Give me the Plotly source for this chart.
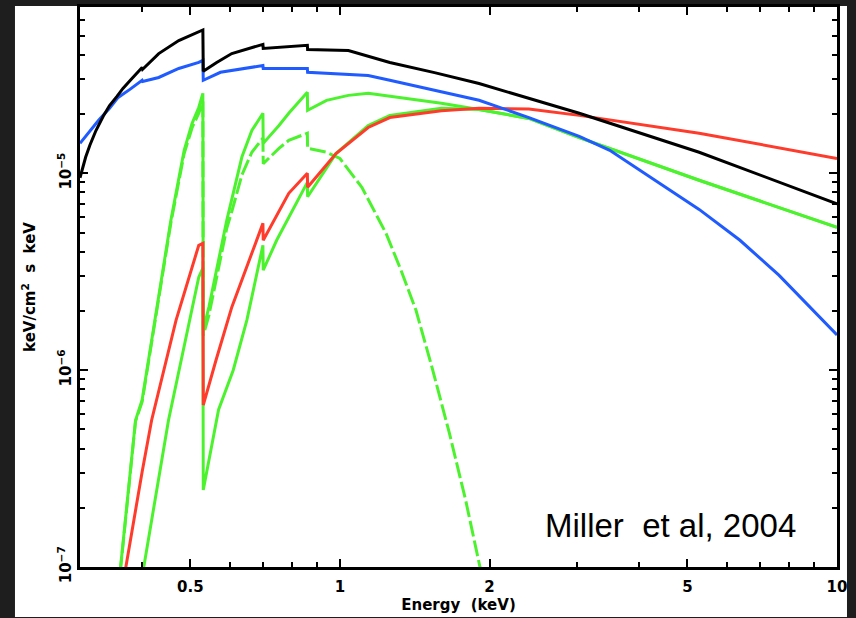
import plotly.graph_objects as go

# ---------------- data (keV, keV^2/cm^2/s/keV) ----------------
E_total = [0.30, 0.308, 0.314, 0.323, 0.334, 0.344, 0.356, 0.366, 0.380, 0.396, 0.400, 0.401,
           0.432, 0.474, 0.520, 0.530, 0.531, 0.565, 0.606, 0.656, 0.700, 0.701, 0.760, 0.860,
           0.861, 1.04, 1.26, 1.55, 1.905, 3.03, 5.28, 10.0]
F_total = [0.95e-5, 1.21e-5, 1.39e-5, 1.65e-5, 1.95e-5, 2.21e-5, 2.46e-5, 2.70e-5, 3.00e-5,
           3.33e-5, 3.45e-5, 3.38e-5, 4.06e-5, 4.73e-5, 5.20e-5, 5.35e-5, 3.30e-5, 3.66e-5,
           4.06e-5, 4.31e-5, 4.52e-5, 4.31e-5, 4.36e-5, 4.47e-5, 4.26e-5, 4.21e-5, 3.66e-5,
           3.25e-5, 2.86e-5, 2.02e-5, 1.28e-5, 0.70e-5]

E_blue = [0.30, 0.327, 0.344, 0.358, 0.378, 0.394, 0.400, 0.401, 0.432, 0.474, 0.520, 0.530,
          0.531, 0.575, 0.656, 0.700, 0.701, 0.860, 0.861, 1.14, 1.26, 1.905, 2.4, 3.03, 3.49,
          4.18, 5.28, 6.38, 7.64, 10.0]
F_blue = [1.42e-5, 1.86e-5, 2.14e-5, 2.43e-5, 2.67e-5, 2.90e-5, 2.97e-5, 2.93e-5, 3.07e-5,
          3.41e-5, 3.66e-5, 3.75e-5, 2.97e-5, 3.26e-5, 3.45e-5, 3.53e-5, 3.41e-5, 3.41e-5,
          3.26e-5, 3.14e-5, 2.97e-5, 2.35e-5, 1.92e-5, 1.54e-5, 1.31e-5, 0.965e-5, 0.656e-5,
          0.457e-5, 0.304e-5, 0.151e-5]

E_red = [0.365, 0.371, 0.400, 0.418, 0.468, 0.520, 0.530, 0.531, 0.563, 0.606, 0.700, 0.701,
         0.789, 0.860, 0.861, 0.982, 1.14, 1.26, 1.6, 1.905, 2.4, 3.03, 5.28, 10.0]
F_red = [7.6e-8, 1.0e-7, 3.04e-7, 5.57e-7, 1.79e-6, 4.31e-6, 4.41e-6, 6.65e-7, 1.12e-6, 2.09e-6,
         5.57e-6, 4.57e-6, 7.92e-6, 1.0e-5, 8.49e-6, 1.26e-5, 1.71e-5, 1.92e-5, 2.08e-5,
         2.14e-5, 2.12e-5, 1.97e-5, 1.60e-5, 1.19e-5]

E_green_sum = [0.357, 0.362, 0.388, 0.400, 0.457, 0.486, 0.504, 0.520, 0.530, 0.531, 0.545,
               0.592, 0.635, 0.665, 0.700, 0.701, 0.754, 0.789, 0.860, 0.861, 0.94, 1.04, 1.14,
               1.26, 1.6, 1.905, 2.4, 3.03, 5.28, 10.0]
F_green_sum = [7.5e-8, 1.0e-7, 5.57e-7, 7.05e-7, 5.77e-6, 1.31e-5, 1.79e-5, 2.16e-5, 2.55e-5,
               1.60e-6, 2.09e-6, 5.77e-6, 1.21e-5, 1.65e-5, 2.02e-5, 1.42e-5, 1.75e-5, 2.02e-5,
               2.58e-5, 2.09e-5, 2.35e-5, 2.49e-5, 2.55e-5, 2.46e-5, 2.27e-5, 2.11e-5, 1.90e-5,
               1.52e-5, 0.922e-5, 0.532e-5]

E_green_bb = [0.357, 0.362, 0.388, 0.400, 0.457, 0.486, 0.504, 0.520, 0.530, 0.531, 0.545,
              0.592, 0.606, 0.635, 0.665, 0.700, 0.701, 0.754, 0.789, 0.860, 0.861, 0.94, 1.0,
              1.107, 1.238, 1.327, 1.422, 1.531, 1.66, 1.79, 1.913, 2.0]
F_green_bb = [7.4e-8, 9.8e-8, 5.5e-7, 6.9e-7, 5.6e-6, 1.26e-5, 1.70e-5, 2.02e-5, 2.32e-5,
              1.50e-6, 1.90e-6, 5.26e-6, 6.4e-6, 9.8e-6, 1.28e-5, 1.51e-5, 1.12e-5, 1.34e-5,
              1.47e-5, 1.60e-5, 1.34e-5, 1.28e-5, 1.19e-5, 8.49e-6, 4.96e-6, 3.22e-6, 2.02e-6,
              1.04e-6, 4.8e-7, 2.19e-7, 1.0e-7, 6.8e-8]

E_green_pl = [0.394, 0.403, 0.452, 0.520, 0.530, 0.531, 0.570, 0.610, 0.650, 0.700, 0.701,
              0.746, 0.860, 0.861, 0.982, 1.14, 1.26, 1.6, 1.905, 2.4, 3.03, 5.28, 10.0]
F_green_pl = [7.1e-8, 1.0e-7, 5.57e-7, 2.97e-6, 3.30e-6, 2.46e-7, 6.3e-7, 1.0e-6, 1.8e-6,
              4.31e-6, 3.22e-6, 4.57e-6, 9.0e-6, 7.6e-6, 1.26e-5, 1.75e-5, 1.97e-5, 2.14e-5,
              2.11e-5, 1.90e-5, 1.52e-5, 9.22e-6, 5.32e-6]

x_tick_vals = [0.5, 1, 2, 5, 10]
x_tick_text = ["0.5", "1", "2", "5", "10"]
x_minor_vals = [0.3, 0.4, 0.6, 0.7, 0.8, 0.9, 3, 4, 6, 7, 8, 9]
y_tick_vals = [1e-7, 1e-6, 1e-5]
y_tick_text = ["10<sup>−7</sup>", "10<sup>−6</sup>", "10<sup>−5</sup>"]
y_minor_vals = [m * d for d in (1e-7, 1e-6, 1e-5) for m in range(2, 10)]

GREEN = "#4df22e"
RED = "#ff3b2c"
BLUE = "#1f5bff"
BLACK = "#000000"

fig = go.Figure()
fig.add_trace(go.Scatter(x=E_green_bb, y=F_green_bb, mode="lines",
                         line=dict(color=GREEN, width=3, dash="16px,4px")))
fig.add_trace(go.Scatter(x=E_green_pl, y=F_green_pl, mode="lines",
                         line=dict(color=GREEN, width=3)))
fig.add_trace(go.Scatter(x=E_green_sum, y=F_green_sum, mode="lines",
                         line=dict(color=GREEN, width=3)))
fig.add_trace(go.Scatter(x=E_red, y=F_red, mode="lines", line=dict(color=RED, width=3)))
fig.add_trace(go.Scatter(x=E_blue, y=F_blue, mode="lines", line=dict(color=BLUE, width=3)))
fig.add_trace(go.Scatter(x=E_total, y=F_total, mode="lines", line=dict(color=BLACK, width=3)))

FONT = dict(family="DejaVu Sans", size=15, color="black")
TICKFONT = dict(family="DejaVu Sans", size=15, color="black", weight="bold")

fig.update_layout(
    width=856, height=618,
    margin=dict(l=80, r=19, t=7, b=51),
    paper_bgcolor="#1e1e1e",
    plot_bgcolor="white",
    showlegend=False,
    font=FONT,
    shapes=[dict(type="rect", xref="paper", yref="paper", x0=-0.0859, x1=1.0132,
                 y0=-0.0893, y1=1.0018, fillcolor="white", line=dict(width=0), layer="below")],
    annotations=[dict(text="Miller\u00a0 et al, 2004", xref="paper", yref="paper",
                      x=0.7807, y=0.075, xanchor="center", yanchor="middle", showarrow=False,
                      font=dict(family="Liberation Sans Narrow, Liberation Sans, Arial",
                                size=33, color="black"))],
)

fig.update_xaxes(
    type="log", range=[-0.5229, 1.0], showgrid=False, zeroline=False,
    showline=True, linecolor="black", linewidth=2.5, mirror="allticks",
    ticks="inside", ticklen=8, tickwidth=2, tickcolor="black",
    tickmode="array", tickvals=x_tick_vals, ticktext=x_tick_text,
    tickfont=TICKFONT, ticklabelstandoff=4,
    minor=dict(tickmode="array", tickvals=x_minor_vals, ticks="inside", ticklen=5,
               tickwidth=2, tickcolor="black", showgrid=False),
    title=dict(text="<b>Energy  (keV)</b>", standoff=4,
               font=dict(family="DejaVu Sans", size=15, color="black")),
    automargin=False,
)
fig.update_yaxes(
    type="log", range=[-7.0, -4.1549], showgrid=False, zeroline=False,
    showline=True, linecolor="black", linewidth=2.5, mirror="allticks",
    ticks="inside", ticklen=8, tickwidth=2, tickcolor="black",
    tickmode="array", tickvals=y_tick_vals, ticktext=y_tick_text, tickangle=-90,
    tickfont=TICKFONT,
    minor=dict(tickmode="array", tickvals=y_minor_vals, ticks="inside", ticklen=5,
               tickwidth=2, tickcolor="black", showgrid=False),
    title=dict(text="<b>keV/cm<sup>2</sup>  s  keV</b>", standoff=16,
               font=dict(family="DejaVu Sans", size=15, color="black")),
    automargin=False,
)

fig.write_html("out.html")
